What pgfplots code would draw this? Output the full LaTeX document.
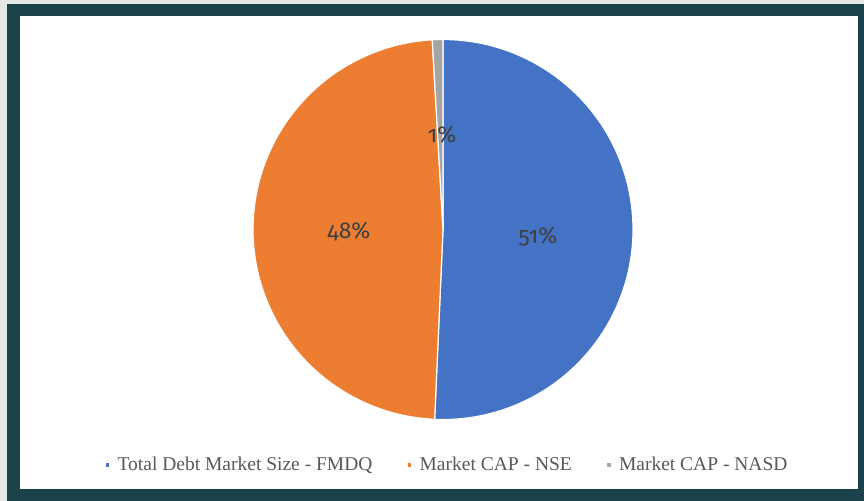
\documentclass[border=0pt]{standalone}
\usepackage{fontspec}
\setmainfont{Liberation Serif}
\newfontfamily\labfont{Fira Sans}[Numbers=OldStyle]
\usepackage{pgfplots}
\pgfplotsset{compat=1.18}
\definecolor{frame}{HTML}{1B424B}
\definecolor{outer}{HTML}{E6E8E8}
\definecolor{sBlue}{HTML}{4472C4}
\definecolor{sOrange}{HTML}{ED7D31}
\definecolor{sGray}{HTML}{A5A5A5}
\definecolor{labcol}{HTML}{404040}
\definecolor{legcol}{HTML}{595959}
% values (percent)
\def\va{50.7}
\def\vb{48.4}
\def\vc{0.9}
\begin{document}
\begin{tikzpicture}[x=1bp,y=1bp]
\fill[outer] (0,0) rectangle (864,-501);
\fill[frame] (7,-4) rectangle (864,-501);
\fill[white] (20,-16) rectangle (858,-489);
\begin{axis}[
  at={(443bp,-229.5bp)}, anchor=origin,
  x=190bp, y=190bp,
  xmin=-1.05, xmax=1.05, ymin=-1.05, ymax=1.05,
  hide axis, clip=false,
  legend columns=3,
  legend style={at={(0.510,-0.09)}, anchor=center, draw=none, fill=none,
    font=\fontsize{19.5bp}{23bp}\selectfont\color{legcol},
    /tikz/every even column/.append style={column sep=32bp}},
  legend image code/.code={\path (0bp,0bp) -- (10bp,0bp);\fill[#1] (0bp,-2.5bp) rectangle (5bp,2.5bp);},
]
\addplot[fill=sBlue, draw=white, line width=1.2bp, domain=90:90-3.6*\va, samples=120, variable=\t]
  ({cos(\t)},{sin(\t)}) -- (0,0) -- cycle;
\addlegendentry{Total Debt Market Size - FMDQ}
\addplot[fill=sOrange, draw=white, line width=1.2bp, domain=90-3.6*\va:90-3.6*\va-3.6*\vb, samples=120, variable=\t]
  ({cos(\t)},{sin(\t)}) -- (0,0) -- cycle;
\addlegendentry{Market CAP - NSE}
\addplot[fill=sGray, draw=white, line width=1.2bp, domain=90-3.6*\va-3.6*\vb:-270, samples=10, variable=\t]
  ({cos(\t)},{sin(\t)}) -- (0,0) -- cycle;
\addlegendentry{Market CAP - NASD}
\node[labcol, font=\labfont\fontsize{23bp}{26bp}\selectfont] at (axis cs:0.5,-0.04) {51\%};
\node[labcol, font=\labfont\fontsize{23bp}{26bp}\selectfont] at (axis cs:-0.495,-0.013) {48\%};
\node[labcol, font=\labfont\fontsize{23bp}{26bp}\selectfont] at (axis cs:-0.005,0.497) {1\%};
\end{axis}
\end{tikzpicture}
\end{document}
